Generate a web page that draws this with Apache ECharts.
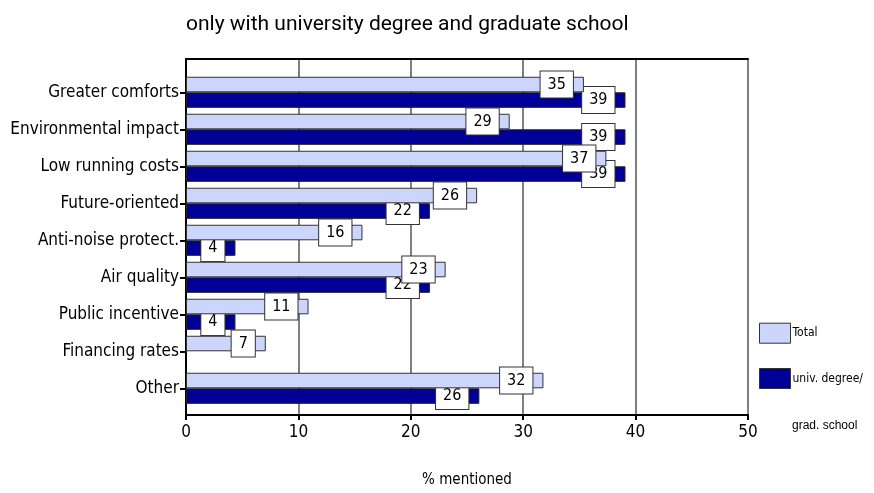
<!DOCTYPE html>
<html>
<head>
<meta charset="utf-8">
<script src="https://cdn.jsdelivr.net/npm/echarts@6/dist/echarts.min.js"></script>
<style>
html,body{margin:0;padding:0;background:#fff;}
#chart{width:874px;height:493px;}
</style>
</head>
<body>
<div id="chart"></div>
<script>
const categories = ['Greater comforts','Environmental impact','Low running costs','Future-oriented','Anti-noise protect.','Air quality','Public incentive','Financing rates','Other'];
const totalValues = [35.4, 28.8, 37.4, 25.9, 15.7, 23.1, 10.9, 7.1, 31.8];
const univValues = [39.1, 39.1, 39.1, 21.7, 4.4, 21.7, 4.4, null, 26.1];
const xTicks = [0, 10, 20, 30, 40, 50];
const seriesNames = ['Total', 'univ. degree/\ngrad. school'];

const NARROW = '"Liberation Sans Narrow", "DejaVu Sans Condensed", "Arial Narrow", sans-serif';

const chart = echarts.init(document.getElementById('chart'));

const labelStyle = {
  show: true,
  position: 'insideRight',
  distance: 11,
  formatter: p => Math.round(p.value),
  backgroundColor: '#fff',
  borderColor: '#333',
  borderWidth: 1,
  padding: [4, 7],
  fontSize: 16,
  lineHeight: 18,
  color: '#000',
  fontFamily: NARROW
};

chart.setOption({
  animation: false,
  backgroundColor: '#fff',
  title: {
    text: 'only with university degree and graduate school',
    left: 186,
    top: 14,
    padding: 0,
    textStyle: { fontSize: 21, fontWeight: 'normal', color: '#000', fontFamily: 'Roboto, sans-serif' }
  },
  legend: [
    {
      data: [seriesNames[0]],
      left: 759, top: 322.7,
      padding: 0,
      itemWidth: 31, itemHeight: 20,
      icon: 'rect',
      itemStyle: { borderColor: '#333', borderWidth: 1 },
      textStyle: { fontSize: 12, color: '#000', fontFamily: NARROW, padding: [0, 0, 0, -3] }
    },
    {
      data: [seriesNames[1]],
      left: 759, top: 368,
      padding: 0,
      itemWidth: 31, itemHeight: 20,
      icon: 'rect',
      formatter: name => name.split('\n')[0],
      itemStyle: { borderColor: '#333', borderWidth: 1 },
      textStyle: { fontSize: 12, color: '#000', fontFamily: NARROW, padding: [0, 0, 0, -3] }
    }
  ],
  graphic: [
    {
      type: 'text', left: 792, top: 420,
      style: { text: seriesNames[1].split('\n')[1], fontSize: 12, fill: '#000', font: '12px ' + NARROW }
    }
  ],
  grid: [
    { left: 186, right: 126, top: 59, bottom: 72, containLabel: false },
    { left: 186, right: 126, top: 73.8, bottom: 86.2, containLabel: false }
  ],
  xAxis: [
    {
      gridIndex: 0, type: 'value', min: 0, max: 50, interval: 10,
      name: '% mentioned', nameLocation: 'middle', nameGap: 58,
      nameTextStyle: { fontSize: 15, color: '#000', fontFamily: NARROW },
      axisLine: { show: true, lineStyle: { color: '#000', width: 2 } },
      axisTick: { show: true, length: 5, lineStyle: { color: '#000', width: 2 } },
      axisLabel: { fontSize: 17, color: '#000', margin: 9, fontFamily: NARROW,
        formatter: v => xTicks.includes(v) ? String(v) : '' },
      splitLine: { show: true, lineStyle: { color: '#808080', width: 2 } }
    },
    {
      gridIndex: 0, type: 'value', min: 0, max: 50, position: 'top',
      axisLine: { show: true, lineStyle: { color: '#000', width: 2 } },
      axisTick: { show: false }, axisLabel: { show: false }, splitLine: { show: false }
    },
    {
      gridIndex: 1, type: 'value', min: 0, max: 50, interval: 10, show: false
    }
  ],
  yAxis: [
    {
      gridIndex: 0, type: 'value', min: 0, max: 1,
      axisLine: { show: true, lineStyle: { color: '#000', width: 2 } },
      axisTick: { show: false }, axisLabel: { show: false }, splitLine: { show: false }
    },
    {
      gridIndex: 1, type: 'category', data: categories, inverse: true,
      axisLine: { show: false },
      axisTick: { show: true, alignWithLabel: true, length: 6, lineStyle: { color: '#000', width: 2 } },
      axisLabel: { fontSize: 17, color: '#000', margin: 7, fontFamily: NARROW },
      splitLine: { show: false }
    }
  ],
  series: [
    {
      name: seriesNames[0], type: 'bar', xAxisIndex: 2, yAxisIndex: 1,
      data: totalValues,
      barGap: '0%', barCategoryGap: '16%',
      itemStyle: { color: '#ccd5fc', borderColor: '#333', borderWidth: 1 },
      label: labelStyle,
      z: 3
    },
    {
      name: seriesNames[1], type: 'bar', xAxisIndex: 2, yAxisIndex: 1,
      data: univValues,
      barGap: '0%', barCategoryGap: '16%',
      itemStyle: { color: '#000099', borderColor: '#222', borderWidth: 1 },
      label: labelStyle,
      z: 2
    }
  ]
});
</script>
</body>
</html>
